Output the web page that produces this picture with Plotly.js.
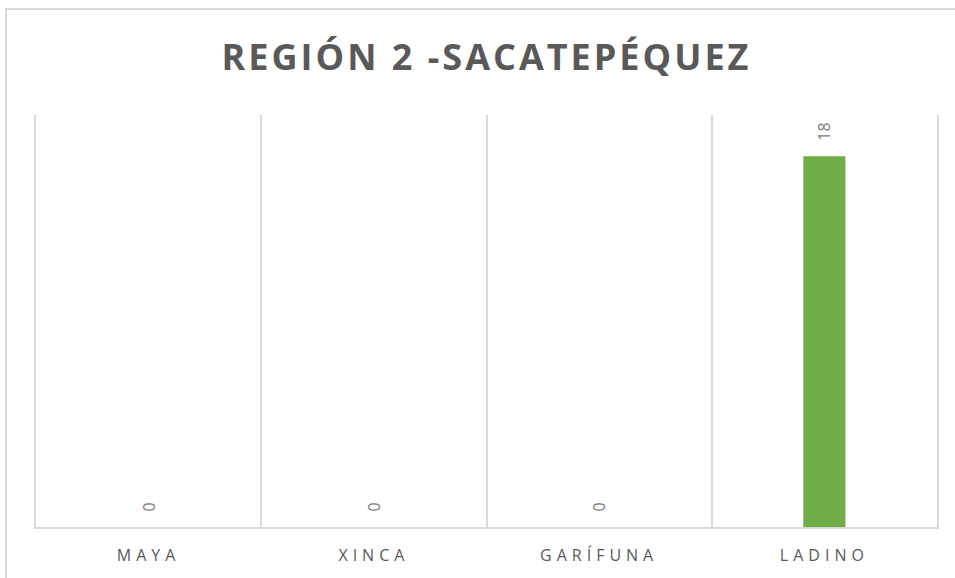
<!DOCTYPE html>
<html>
<head>
<meta charset="utf-8">
<script src="https://cdn.plot.ly/plotly-3.0.1.min.js"></script>
<style>
  html, body { margin: 0; padding: 0; background: #fff; overflow: hidden; }
  #wrap { position: relative; width: 955px; height: 578px; }
  #chart { width: 955px; height: 578px; }
  #frame { position: absolute; left: 5px; top: 8px; width: 970px; height: 600px;
           border: 2px solid #d9d9d9; pointer-events: none; box-sizing: border-box; }
  .xtick text { letter-spacing: 5px; }
  .gtitle { letter-spacing: 3px; }
</style>
</head>
<body>
<div id="wrap">
  <div id="chart"></div>
  <div id="frame"></div>
</div>
<script>
const categories = ["MAYA", "XINCA", "GARÍFUNA", "LADINO"];
const values = [0, 0, 0, 18];
const chartTitle = "REGIÓN 2 -SACATEPÉQUEZ";

const trace = {
  type: "bar",
  x: categories,
  y: values,
  marker: { color: "#70ad47" },
  texttemplate: "\u00a0\u00a0\u00a0%{y}",
  textposition: "outside",
  textangle: -90,
  constraintext: "none",
  cliponaxis: false,
  textfont: { family: "Open Sans, sans-serif", size: 16, color: "#7a7a7a" },
  hoverinfo: "x+y"
};

const layout = {
  width: 955,
  height: 578,
  margin: { l: 36, r: 18, t: 115, b: 51 },
  paper_bgcolor: "#ffffff",
  plot_bgcolor: "#ffffff",
  showlegend: false,
  bargap: 0.813,
  title: {
    text: "<b>" + chartTitle + "</b>",
    font: { family: "Open Sans, sans-serif", size: 36, color: "#595959" },
    xref: "paper", x: 0.5, xanchor: "center",
    y: 0.9, yanchor: "middle", yref: "container"
  },
  xaxis: {
    type: "category",
    tickson: "boundaries",
    showgrid: true,
    gridcolor: "#d9d9d9",
    gridwidth: 2,
    showline: true,
    linecolor: "#d9d9d9",
    linewidth: 2,
    ticks: "",
    tickfont: { family: "Open Sans, sans-serif", size: 16, color: "#595959" },
    ticklabelstandoff: 13,
    fixedrange: true
  },
  yaxis: {
    range: [0, 20],
    showgrid: false,
    zeroline: false,
    showline: true,
    mirror: true,
    linecolor: "#d9d9d9",
    linewidth: 2,
    ticks: "",
    showticklabels: false,
    fixedrange: true
  }
};

Plotly.newPlot("chart", [trace], layout, { displayModeBar: false, staticPlot: true });
</script>
</body>
</html>
